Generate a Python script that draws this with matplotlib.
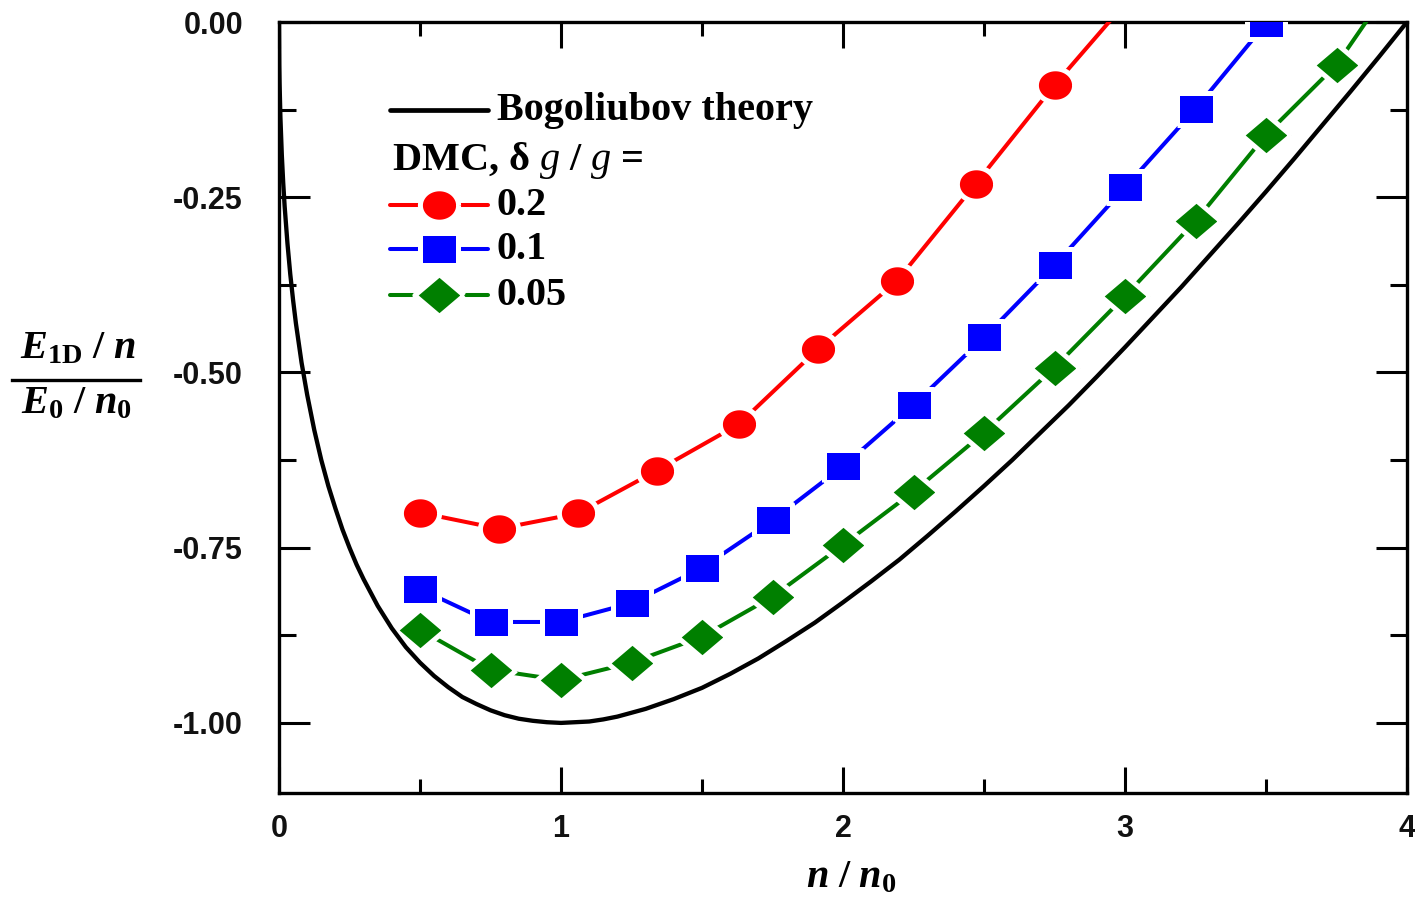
import numpy as np
import matplotlib
matplotlib.use("Agg")
import matplotlib.pyplot as plt
from matplotlib.lines import Line2D
from matplotlib.ticker import FixedLocator, FixedFormatter

# ---------------- data ----------------
bogo_x = [0, 0.001, 0.002, 0.005, 0.01, 0.015, 0.02, 0.03, 0.04, 0.05, 0.06, 0.08,
          0.1, 0.125, 0.15, 0.175, 0.2, 0.225, 0.25, 0.275, 0.3, 0.35, 0.4, 0.45,
          0.5, 0.55, 0.6, 0.65, 0.7, 0.75, 0.8, 0.85, 0.9, 0.95, 1.0, 1.05, 1.1,
          1.15, 1.2, 1.3, 1.4, 1.5, 1.6, 1.7, 1.8, 1.9, 2.0, 2.1, 2.2, 2.3, 2.4,
          2.5, 2.6, 2.7, 2.8, 2.9, 3.0, 3.1, 3.2, 3.3, 3.4, 3.5, 3.6, 3.7, 3.8,
          3.9, 4.0]
bogo_y = [0.0, -0.062, -0.087, -0.136, -0.190, -0.230, -0.263, -0.316, -0.360,
          -0.397, -0.430, -0.486, -0.532, -0.582, -0.625, -0.662, -0.694, -0.724,
          -0.750, -0.774, -0.795, -0.833, -0.865, -0.892, -0.914, -0.933, -0.949,
          -0.963, -0.973, -0.982, -0.989, -0.994, -0.997, -0.999, -1.000, -0.999,
          -0.998, -0.995, -0.991, -0.980, -0.966, -0.950, -0.930, -0.908, -0.883,
          -0.857, -0.828, -0.798, -0.767, -0.733, -0.698, -0.662, -0.625, -0.586,
          -0.547, -0.506, -0.464, -0.421, -0.378, -0.333, -0.288, -0.242, -0.195,
          -0.147, -0.099, -0.050, 0.0]

red_x = [0.50, 0.78, 1.06, 1.34, 1.63, 1.91, 2.19, 2.47, 2.75, 3.04]
red_y = [-0.700, -0.723, -0.701, -0.640, -0.574, -0.467, -0.370, -0.231, -0.090, 0.045]

blue_x = [0.5, 0.75, 1.0, 1.25, 1.5, 1.75, 2.0, 2.25, 2.5, 2.75, 3.0, 3.25, 3.5]
blue_y = [-0.809, -0.856, -0.856, -0.829, -0.779, -0.711, -0.634, -0.546,
          -0.450, -0.347, -0.236, -0.124, -0.002]

green_x = [0.5, 0.75, 1.0, 1.25, 1.5, 1.75, 2.0, 2.25, 2.5, 2.75, 3.0, 3.25, 3.5, 3.75, 4.0]
green_y = [-0.867, -0.924, -0.939, -0.914, -0.877, -0.820, -0.746, -0.670,
           -0.586, -0.493, -0.391, -0.284, -0.161, -0.061, 0.085]

x_ticks = [0, 1, 2, 3, 4]
x_ticklabels = ["0", "1", "2", "3", "4"]
x_minor = [0.5, 1.5, 2.5, 3.5]
y_ticks = [0.0, -0.25, -0.5, -0.75, -1.0]
y_ticklabels = ["0.00", "-0.25", "-0.50", "-0.75", "-1.00"]
y_minor = [-0.125, -0.375, -0.625, -0.875]

legend_labels = ["Bogoliubov theory", "0.2", "0.1", "0.05"]

# ---------------- style ----------------
plt.rcParams['mathtext.fontset'] = 'custom'
plt.rcParams['mathtext.rm'] = 'Liberation Serif:bold'
plt.rcParams['mathtext.bf'] = 'Liberation Serif:bold'
plt.rcParams['mathtext.it'] = 'Liberation Serif:italic'
plt.rcParams['mathtext.bfit'] = 'Liberation Serif:italic:bold'

# custom (horizontally stretched) marker shapes
t = np.linspace(0, 2 * np.pi, 64)
m_circle = list(zip(np.cos(t), 0.875 * np.sin(t)))
m_square = [(-1, -0.82), (1, -0.82), (1, 0.82), (-1, 0.82), (-1, -0.82)]
m_diamond = [(1, 0), (0, 0.85), (-1, 0), (0, -0.85), (1, 0)]

series_style = [
    dict(color='#ff0000', marker=m_circle, markersize=27.5),
    dict(color='#0000ff', marker=m_square, markersize=28.0),
    dict(color='#007f00', marker=m_diamond, markersize=35.5),
]
LW = 2.9
MEW = 3.6

fig = plt.figure(figsize=(14.15, 8.99), dpi=100)
ax = fig.add_axes([279 / 1415, 1 - 793 / 899, 1128 / 1415, 771 / 899])

ax.set_xlim(0, 4)
ax.set_ylim(-1.1, 0.0)

for xs, ys, st in zip([red_x, blue_x, green_x], [red_y, blue_y, green_y], series_style):
    ax.plot(xs, ys, color=st['color'], lw=LW, marker=st['marker'],
            markersize=st['markersize'], markerfacecolor=st['color'],
            markeredgecolor='white', markeredgewidth=MEW, zorder=3)

ax.plot(bogo_x, bogo_y, color='black', lw=3.1, zorder=4, solid_capstyle='round',
        solid_joinstyle='round')

# ticks
ax.xaxis.set_major_locator(FixedLocator(x_ticks))
ax.xaxis.set_major_formatter(FixedFormatter(x_ticklabels))
ax.xaxis.set_minor_locator(FixedLocator(x_minor))
ax.yaxis.set_major_locator(FixedLocator(y_ticks))
ax.yaxis.set_major_formatter(FixedFormatter(y_ticklabels))
ax.yaxis.set_minor_locator(FixedLocator(y_minor))

ax.tick_params(which='both', direction='in', top=True, right=True, width=2.2, color='black')
ax.tick_params(axis='y', which='major', length=22, pad=26)
ax.tick_params(axis='y', which='minor', length=12)
ax.tick_params(axis='x', which='major', length=19, pad=15)
ax.tick_params(axis='x', which='minor', length=10)
for lab in ax.get_xticklabels() + ax.get_yticklabels():
    lab.set_fontfamily('Liberation Sans')
    lab.set_fontweight('bold')
    lab.set_fontsize(22)
    lab.set_color('#111111')

for sp in ax.spines.values():
    sp.set_linewidth(2.4)

# y label as a fraction
fig.text(78 / 1415, 1 - 347 / 899, r'$\mathbfit{E}_{\mathbf{1D}}\ /\ \mathbfit{n}$',
         fontsize=29, ha='center', va='center')
fig.text(76 / 1415, 1 - 402 / 899, r'$\mathbfit{E}_{\mathbf{0}}\ /\ \mathbfit{n}_{\mathbf{0}}$',
         fontsize=29, ha='center', va='center')
fig.add_artist(Line2D([12 / 1415, 140 / 1415], [1 - 380 / 899, 1 - 380 / 899],
                      color='black', lw=2.4, transform=fig.transFigure))
# x label
fig.text(851 / 1415, 1 - 876 / 899, r'$\mathbfit{n}\ /\ \mathbfit{n}_{\mathbf{0}}$',
         fontsize=29, ha='center', va='center')

# legend (manual)
def ax_x(px):
    return (px - 279) / 1128

def ax_y(py):
    return 1 - (py - 22) / 771

lx0, lx1, lxm, ltx = ax_x(390), ax_x(488), ax_x(439), ax_x(497)
ax.plot([lx0, lx1], [ax_y(110)] * 2, color='black', lw=3.4, transform=ax.transAxes,
        solid_capstyle='round', clip_on=False)
ax.text(ltx, ax_y(110), legend_labels[0], transform=ax.transAxes, fontsize=29,
        fontfamily='Liberation Serif', fontweight='bold', va='center', ha='left')
ax.text(ax_x(392), ax_y(160), r'DMC, δ $\mathit{g}$ / $\mathit{g}$ =', transform=ax.transAxes,
        fontsize=29, fontfamily='Liberation Serif', fontweight='bold', va='center', ha='left')
for py, st, lab in zip([205, 249, 295], series_style, legend_labels[1:]):
    yy = ax_y(py)
    ax.plot([lx0, lxm, lx1], [yy, yy, yy], color=st['color'], lw=LW, marker=st['marker'],
            markersize=st['markersize'], markerfacecolor=st['color'],
            markeredgecolor='white', markeredgewidth=MEW, markevery=[1],
            transform=ax.transAxes, solid_capstyle='round', clip_on=False)
    ax.text(ltx, yy, lab, transform=ax.transAxes, fontsize=29,
            fontfamily='Liberation Serif', fontweight='bold', va='center', ha='left')

fig.savefig('out.png', dpi=100)
